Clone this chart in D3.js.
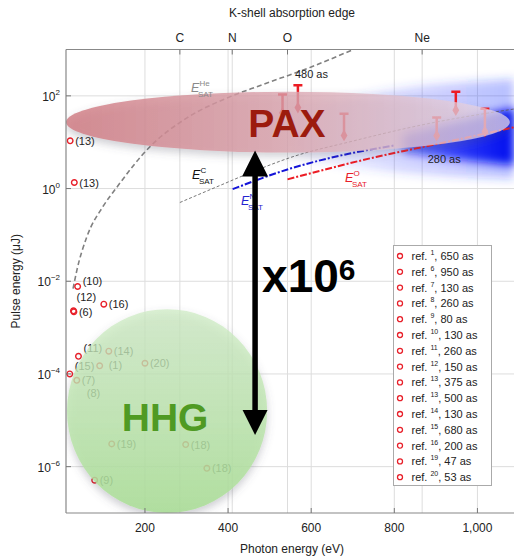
<!DOCTYPE html>
<html lang="en">
<head>
  <meta charset="UTF-8" />
  <title>PAX vs HHG pulse energy</title>
  <script src="https://d3js.org/d3.v7.min.js"></script>
  <style>
    body {
      margin: 0;
      background: #fff;
      font-family: "Liberation Sans", Arial, sans-serif;
    }
    svg { display: block; }
    .grid line { stroke: #ddd; stroke-width: 1px; }
    .tick-label { font-size: 12px; fill: #222; }
    .pt-label { font-size: 11px; fill: #222; }
    .leg { font-size: 11px; fill: #222; }
  </style>
</head>
<body>
<svg width="514" height="560"></svg>
<script>
// K-shell absorption edges (eV)
const edges = [
  { el: "C", e: 284 },
  { el: "N", e: 410 },
  { el: "O", e: 543 },
  { el: "Ne", e: 867 }
];
const xTicks = [200, 400, 600, 800, 1000];
const yTicks = [1e-6, 1e-4, 1e-2, 1, 1e2];

// literature points: ref, photon energy (eV), pulse energy (uJ)
const points = [
  { ref: "13", e: 20, p: 10.7 },
  { ref: "13", e: 30, p: 1.35 },
  { ref: "10", e: 38, p: 7.7e-3 },
  { ref: "12", e: 28, p: 2.3e-3 },
  { ref: "6", e: 29, p: 2.2e-3 },
  { ref: "16", e: 101, p: 3.2e-3 },
  { ref: "11", e: 40, p: 2.4e-4 },
  { ref: "15", e: 19, p: 1.0e-4 },
  { ref: "14", e: 113, p: 3.1e-4 },
  { ref: "1", e: 91, p: 1.5e-4 },
  { ref: "20", e: 200, p: 1.7e-4 },
  { ref: "7", e: 36, p: 7.3e-5 },
  { ref: "8", e: 48, p: 3.8e-5, hidden: true },
  { ref: "19", e: 120, p: 3.1e-6 },
  { ref: "18", e: 298, p: 3.0e-6 },
  { ref: "18", e: 349, p: 9.2e-7 },
  { ref: "9", e: 79, p: 5.1e-7 }
];

// PAX measurements: photon energy, measured value, upper bound (uJ)
const paxBars = [
  { e: 531, p: 43, hi: 107 },
  { e: 568, p: 56, hi: 169 },
  { e: 679, p: 14, hi: 41 },
  { e: 902, p: 13.8, hi: 34 },
  { e: 948, p: 49, hi: 123 },
  { e: 1018, p: 17, hi: 53 }
];

// saturation energy curves [eV, uJ]
const eSatHe = [[27, 6.9e-3], [36, 0.017], [60, 0.09], [99, 0.41], [130, 1.0], [212, 8.0], [300, 33], [404, 95], [476, 166], [600, 420], [712, 1100]];
const eSatC = [[284, 0.5], [380, 1.16], [459, 2.3], [560, 5.0], [693, 10.2], [880, 25], [1088, 52]];
const eSatN = [[411, 0.97], [550, 2.7], [693, 5.7], [800, 8.5]];
const eSatO = [[543, 1.58], [756, 4.8], [860, 7.6], [1088, 21]];

// simulated PAX range (blue): eV, low, high (uJ)
const simOuter = [[560, 4.5, 50], [700, 2.8, 100], [850, 2.0, 170], [1088, 1.6, 230]];
const simCore = [[820, 6, 15], [950, 4.2, 28], [1088, 3.2, 55]];

const legendRefs = ["1", "6", "7", "8", "9", "10", "11", "12", "13", "13", "14", "15", "16", "19", "20"];
const legendDur = [650, 950, 130, 260, 80, 130, 260, 150, 375, 500, 130, 680, 200, 47, 53];

const svg = d3.select("svg");
const x = d3.scaleLinear().domain([10, 1088]).range([66, 514]);
const y = d3.scaleLog().domain([1e-7, 1e3]).range([513, 49.5]);
const [x0, x1] = x.range();
const [yb, yt] = y.range();

const defs = svg.append("defs");
const blur = defs.append("filter").attr("id", "blur").attr("x", "-20%").attr("y", "-40%").attr("width", "140%").attr("height", "180%");
blur.append("feGaussianBlur").attr("stdDeviation", 5);
const shadow = defs.append("filter").attr("id", "shadow").attr("x", "-20%").attr("y", "-30%").attr("width", "140%").attr("height", "170%");
shadow.append("feDropShadow").attr("dx", 0).attr("dy", 4).attr("stdDeviation", 4).attr("flood-color", "#556").attr("flood-opacity", 0.35);

function hGrad(id, stops) {
  const g = defs.append("linearGradient").attr("id", id).attr("gradientUnits", "userSpaceOnUse")
    .attr("x1", x(500)).attr("x2", x1).attr("y1", 0).attr("y2", 0);
  stops.forEach(s => g.append("stop").attr("offset", s[0]).attr("stop-color", s[1]).attr("stop-opacity", s[2]));
}
hGrad("simOuterG", [[0, "#4455ff", 0], [0.5, "#3344ff", 0.2], [1, "#2233ff", 0.32]]);
hGrad("simCoreG", [[0, "#0011ff", 0], [0.55, "#0011ff", 0.55], [1, "#0008ee", 1]]);

const paxG = defs.append("linearGradient").attr("id", "paxG");
[[0, "rgb(208,125,132)", 0.85], [0.45, "rgb(216,158,168)", 0.78], [1, "rgb(232,218,232)", 0.72]]
  .forEach(s => paxG.append("stop").attr("offset", s[0]).attr("stop-color", s[1]).attr("stop-opacity", s[2]));
const hhgG = defs.append("linearGradient").attr("id", "hhgG").attr("x1", 0).attr("x2", 0).attr("y1", 0).attr("y2", 1);
[[0, "rgb(205,235,195)", 0.72], [1, "rgb(170,222,150)", 0.86]]
  .forEach(s => hhgG.append("stop").attr("offset", s[0]).attr("stop-color", s[1]).attr("stop-opacity", s[2]));

const plot = svg.append("g");
defs.append("clipPath").attr("id", "clip").append("rect")
  .attr("x", x0).attr("y", yt).attr("width", x1 - x0).attr("height", yb - yt);

// grid
const grid = plot.append("g").attr("class", "grid");
grid.selectAll(".vx").data(xTicks.concat(edges.map(d => d.e))).join("line")
  .attr("x1", d => x(d)).attr("x2", d => x(d)).attr("y1", yt).attr("y2", yb);
grid.selectAll(".hy").data(yTicks).join("line")
  .attr("x1", x0).attr("x2", x1).attr("y1", d => y(d)).attr("y2", d => y(d));

const clipped = plot.append("g").attr("clip-path", "url(#clip)");

// simulated region
const band = d3.area().x(d => x(d[0])).y0(d => y(d[1])).y1(d => y(d[2])).curve(d3.curveBasis);
clipped.append("path").datum(simOuter).attr("d", band).attr("fill", "url(#simOuterG)").attr("filter", "url(#blur)");
clipped.append("path").datum(simCore).attr("d", band).attr("fill", "url(#simCoreG)").attr("filter", "url(#blur)");

// saturation curves
const line = d3.line().x(d => x(d[0])).y(d => y(d[1])).curve(d3.curveMonotoneX);
clipped.append("path").datum(eSatHe).attr("d", line).attr("fill", "none")
  .attr("stroke", "#808080").attr("stroke-width", 1.6).attr("stroke-dasharray", "5,3");
clipped.append("path").datum(eSatC).attr("d", line).attr("fill", "none")
  .attr("stroke", "#555").attr("stroke-width", 0.8).attr("stroke-dasharray", "3,2");
clipped.append("path").datum(eSatN).attr("d", line).attr("fill", "none")
  .attr("stroke", "#1414d8").attr("stroke-width", 2).attr("stroke-dasharray", "7,2,2,2");
clipped.append("path").datum(eSatO).attr("d", line).attr("fill", "none")
  .attr("stroke", "#ec1c24").attr("stroke-width", 2).attr("stroke-dasharray", "7,2,2,2");

// PAX error bars
const bars = clipped.append("g").selectAll("g").data(paxBars).join("g").attr("fill", "#ec1c24").attr("stroke", "#ec1c24");
bars.append("line").attr("x1", d => x(d.e)).attr("x2", d => x(d.e)).attr("y1", d => y(d.hi)).attr("y2", d => y(d.p)).attr("stroke-width", 2.5);
bars.append("line").attr("x1", d => x(d.e) - 4.5).attr("x2", d => x(d.e) + 4.5).attr("y1", d => y(d.hi)).attr("y2", d => y(d.hi)).attr("stroke-width", 2.5);
bars.append("path").attr("d", d3.symbol(d3.symbolDiamond, 40))
  .attr("transform", d => `translate(${x(d.e)},${y(d.p)})`).attr("stroke", "none");

// literature points
const labelOff = { "12": [3, -10], "10": [5, -2], "11": [5, -4], "15": [5, -4], "1": [9, 3] };
const pts = plot.append("g").selectAll("g").data(points).join("g")
  .attr("transform", d => `translate(${x(d.e)},${y(d.p)})`);
pts.filter(d => !d.hidden).append("circle").attr("r", 2.8)
  .attr("fill", "none").attr("stroke", "#e8202a").attr("stroke-width", 1.4);
pts.append("text").attr("class", "pt-label")
  .attr("x", d => (labelOff[d.ref] || [5, 4])[0])
  .attr("y", d => (labelOff[d.ref] || [5, 4])[1])
  .text(d => `(${d.ref})`);

// translucent regions on top of the marks
const overlay = plot.append("g").attr("clip-path", "url(#clip)");

// PAX ellipse
const pax = { e0: 10, e1: 1078, lo: 6.0, hi: 123 };
overlay.append("ellipse")
  .attr("cx", (x(pax.e0) + x(pax.e1)) / 2).attr("cy", (y(pax.lo) + y(pax.hi)) / 2)
  .attr("rx", (x(pax.e1) - x(pax.e0)) / 2).attr("ry", (y(pax.lo) - y(pax.hi)) / 2)
  .attr("fill", "url(#paxG)").attr("filter", "url(#shadow)");

// HHG circle
const hhg = { e0: 12.4, e1: 494, lo: 1e-7, hi: 2.5e-3 };
overlay.append("ellipse")
  .attr("cx", (x(hhg.e0) + x(hhg.e1)) / 2).attr("cy", (y(hhg.lo) + y(hhg.hi)) / 2)
  .attr("rx", (x(hhg.e1) - x(hhg.e0)) / 2).attr("ry", (y(hhg.lo) - y(hhg.hi)) / 2)
  .attr("fill", "url(#hhgG)").attr("filter", "url(#shadow)");

// big labels
svg.append("text").attr("x", (x(pax.e0) + x(pax.e1)) / 2 - 1).attr("y", (y(pax.lo) + y(pax.hi)) / 2 + 15)
  .attr("text-anchor", "middle").attr("font-size", 39).attr("font-weight", "bold")
  .attr("fill", "#9c1b0e").text("PAX");
svg.append("text").attr("x", (x(hhg.e0) + x(hhg.e1)) / 2 - 2).attr("y", 431)
  .attr("text-anchor", "middle").attr("font-size", 39).attr("font-weight", "bold")
  .attr("fill", "#4f9a23").text("HHG");

svg.append("text").attr("x", x(568) - 3).attr("y", 78).attr("font-size", 11).attr("fill", "#222").text("480 as");
svg.append("text").attr("x", x(902) - 9).attr("y", 163).attr("font-size", 11).attr("fill", "#222").text("280 as");

// E_SAT labels
function eSat(px, py, sup, color) {
  const g = svg.append("g").attr("fill", color);
  g.append("text").attr("x", px).attr("y", py).attr("font-size", 12.5).attr("font-style", "italic").text("E");
  g.append("text").attr("x", px + 8.5).attr("y", py - 6.5).attr("font-size", 8).text(sup);
  g.append("text").attr("x", px + 7).attr("y", py + 5).attr("font-size", 8).text("SAT");
}
eSat(191, 92, "He", "#8a8a8a");
eSat(192, 179, "C", "#111");
eSat(241, 205, "N", "#2424d0");
eSat(345, 182, "O", "#e8202a");

// x10^6 arrow
const arrow = { e: 465, top: 6.6, bottom: 4.8e-6 };
const ax = x(arrow.e), aT = y(arrow.top), aB = y(arrow.bottom);
svg.append("line").attr("x1", ax).attr("x2", ax).attr("y1", aT + 20).attr("y2", aB - 20)
  .attr("stroke", "#000").attr("stroke-width", 5.5);
svg.append("path").attr("d", `M${ax},${aT} L${ax - 13},${aT + 26} L${ax + 13},${aT + 26} Z`).attr("fill", "#000");
svg.append("path").attr("d", `M${ax},${aB} L${ax - 12.5},${aB - 25} L${ax + 12.5},${aB - 25} Z`).attr("fill", "#000");
const xt = svg.append("text").attr("x", ax + 7).attr("y", 292).attr("font-size", 46).attr("font-weight", "bold").attr("fill", "#000");
xt.append("tspan").text("x10");
xt.append("tspan").attr("font-size", 30).attr("dy", -12).text("6");

// axes frame
svg.append("g").attr("stroke", "#888").attr("stroke-width", 1.2).selectAll("line")
  .data([[x0, yt, x1, yt], [x0, yt, x0, yb], [x0, yb, x1, yb]]).join("line")
  .attr("x1", d => d[0]).attr("y1", d => d[1]).attr("x2", d => d[2]).attr("y2", d => d[3]);

// tick marks
const tk = svg.append("g").attr("stroke", "#777").attr("stroke-width", 1);
tk.selectAll(".tb").data(xTicks).join("line")
  .attr("x1", d => x(d)).attr("x2", d => x(d)).attr("y1", yb).attr("y2", yb - 5);
tk.selectAll(".tt").data(edges).join("line")
  .attr("x1", d => x(d.e)).attr("x2", d => x(d.e)).attr("y1", yt).attr("y2", yt + 5);
tk.selectAll(".tl").data(yTicks).join("line")
  .attr("x1", x0).attr("x2", x0 + 5).attr("y1", d => y(d)).attr("y2", d => y(d));

// tick labels
svg.selectAll(".xl").data(xTicks).join("text").attr("class", "tick-label")
  .attr("x", d => x(d)).attr("y", 532).attr("text-anchor", "middle").text(d => d3.format(",")(d));
const yl = svg.selectAll(".yl").data(yTicks).join("text").attr("class", "tick-label")
  .attr("x", 60).attr("y", d => y(d) + 5).attr("text-anchor", "end");
yl.append("tspan").text("10");
yl.append("tspan").attr("font-size", 8).attr("dy", -6)
  .text(d => String(Math.round(Math.log10(d))).replace("-", "\u2212"));

svg.selectAll(".el").data(edges).join("text").attr("class", "tick-label")
  .attr("x", d => x(d.e)).attr("y", 42).attr("text-anchor", "middle").text(d => d.el);
svg.append("text").attr("class", "tick-label").attr("x", 292).attr("y", 17)
  .attr("text-anchor", "middle").text("K-shell absorption edge");
svg.append("text").attr("class", "tick-label").attr("x", 292).attr("y", 553)
  .attr("text-anchor", "middle").text("Photon energy (eV)");
svg.append("text").attr("class", "tick-label")
  .attr("transform", `translate(20,${(yt + yb) / 2}) rotate(-90)`)
  .attr("text-anchor", "middle").text("Pulse energy (\u03bcJ)");

// legend
const leg = svg.append("g");
leg.append("rect").attr("x", 393.5).attr("y", 245.5).attr("width", 98).attr("height", 240)
  .attr("fill", "#fff").attr("stroke", "#aaa");
const rows = leg.selectAll(".row").data(legendRefs).join("g")
  .attr("transform", (d, i) => `translate(400,${256 + i * 15.8})`);
rows.append("circle").attr("r", 2.5).attr("fill", "none").attr("stroke", "#e8202a").attr("stroke-width", 1.3);
const lt = rows.append("text").attr("class", "leg").attr("x", 11.5).attr("y", 4);
lt.append("tspan").text("ref. ");
lt.append("tspan").attr("font-size", 7).attr("dy", -5).text(d => d);
lt.append("tspan").attr("dy", 5).text((d, i) => `, ${legendDur[i]} as`);
</script>
</body>
</html>
